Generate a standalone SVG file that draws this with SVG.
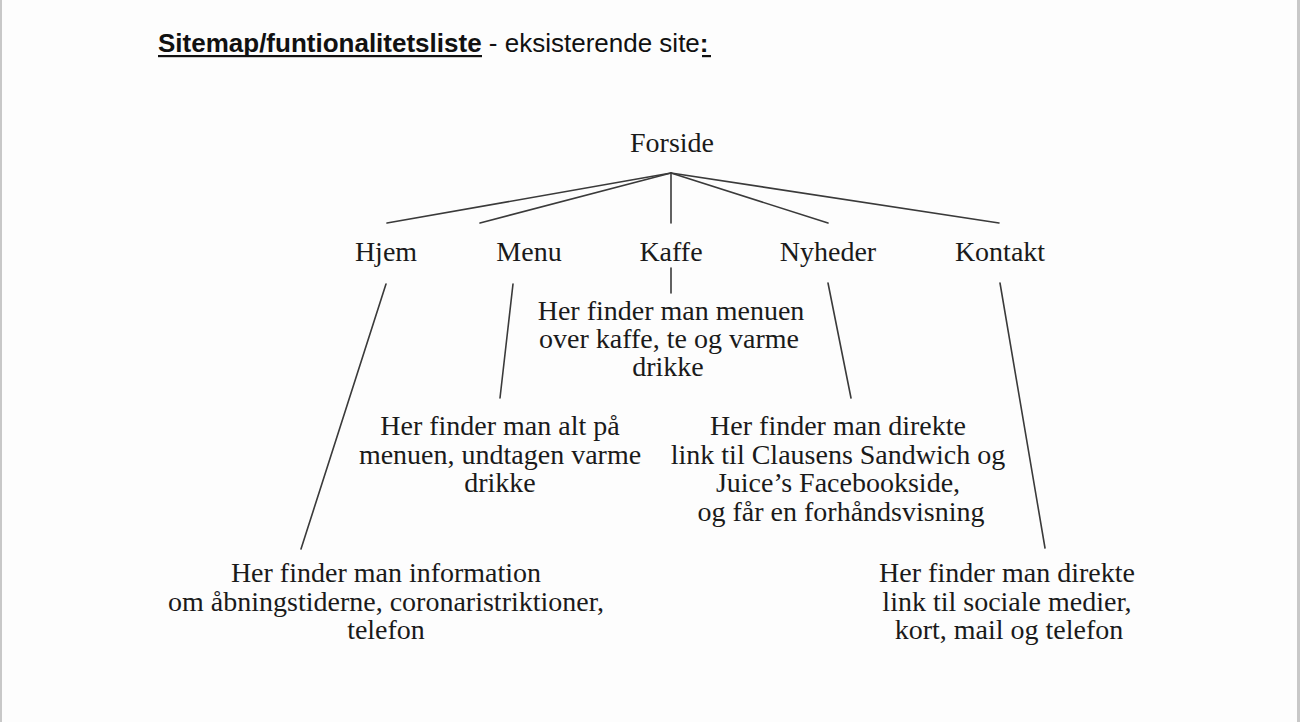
<svg xmlns="http://www.w3.org/2000/svg" width="1300" height="722" viewBox="0 0 1300 722">
<style>
.t{font-family:"Liberation Serif","Times New Roman",serif;font-size:28px;fill:#1a1a1a;text-anchor:middle}
.h{font-family:"Liberation Sans",Arial,sans-serif;font-size:26px;fill:#111}
.c line{stroke:#3a3a3a;stroke-width:1.6;stroke-linecap:round}
</style>
<rect x="0" y="0" width="1300" height="722" fill="#fdfdfd"/>
<rect x="0" y="0" width="2" height="722" fill="#c8c8c8"/>
<rect x="1297" y="0" width="3" height="722" fill="#c8c8c8"/>
<g id="title">
<text class="h" x="158" y="52"><tspan font-weight="bold">Sitemap/funtionalitetsliste</tspan> - eksisterende site<tspan font-weight="bold">:</tspan></text>
<rect x="158" y="55" width="324" height="2.2" fill="#111"/>
<rect x="702" y="55" width="9" height="2.2" fill="#111"/>
</g>
<g class="c" id="connectors">
<line x1="671" y1="173" x2="387" y2="223"/>
<line x1="671" y1="173" x2="480" y2="223"/>
<line x1="671" y1="173" x2="671" y2="223"/>
<line x1="671" y1="173" x2="828" y2="223"/>
<line x1="671" y1="173" x2="999" y2="223"/>
<line x1="386" y1="284" x2="301" y2="549"/>
<line x1="513" y1="284" x2="500" y2="398"/>
<line x1="671" y1="268" x2="671" y2="293"/>
<line x1="828" y1="283" x2="851" y2="398"/>
<line x1="1000" y1="283" x2="1045" y2="548"/>
</g>
<g id="forside"><text class="t" x="672" y="152">Forside</text></g>
<g id="hjem"><text class="t" x="386" y="261">Hjem</text></g>
<g id="menu"><text class="t" x="529" y="261">Menu</text></g>
<g id="kaffe"><text class="t" x="671" y="261">Kaffe</text></g>
<g id="nyheder"><text class="t" x="828" y="261">Nyheder</text></g>
<g id="kontakt"><text class="t" x="1000" y="261">Kontakt</text></g>
<g id="kaffe-info">
<text class="t" x="671" y="320">Her finder man menuen</text>
<text class="t" x="669" y="348">over kaffe, te og varme</text>
<text class="t" x="668" y="376">drikke</text>
</g>
<g id="menu-info">
<text class="t" x="500" y="435">Her finder man alt på</text>
<text class="t" x="500" y="464">menuen, undtagen varme</text>
<text class="t" x="500" y="492">drikke</text>
</g>
<g id="nyheder-info">
<text class="t" x="838" y="435">Her finder man direkte</text>
<text class="t" x="838" y="464">link til Clausens Sandwich og</text>
<text class="t" x="838" y="492">Juice’s Facebookside,</text>
<text class="t" x="841" y="521">og får en forhåndsvisning</text>
</g>
<g id="hjem-info">
<text class="t" x="386" y="582">Her finder man information</text>
<text class="t" x="386" y="611">om åbningstiderne, coronaristriktioner,</text>
<text class="t" x="386" y="639">telefon</text>
</g>
<g id="kontakt-info">
<text class="t" x="1007" y="582">Her finder man direkte</text>
<text class="t" x="1007" y="611">link til sociale medier,</text>
<text class="t" x="1009" y="639">kort, mail og telefon</text>
</g>
</svg>
